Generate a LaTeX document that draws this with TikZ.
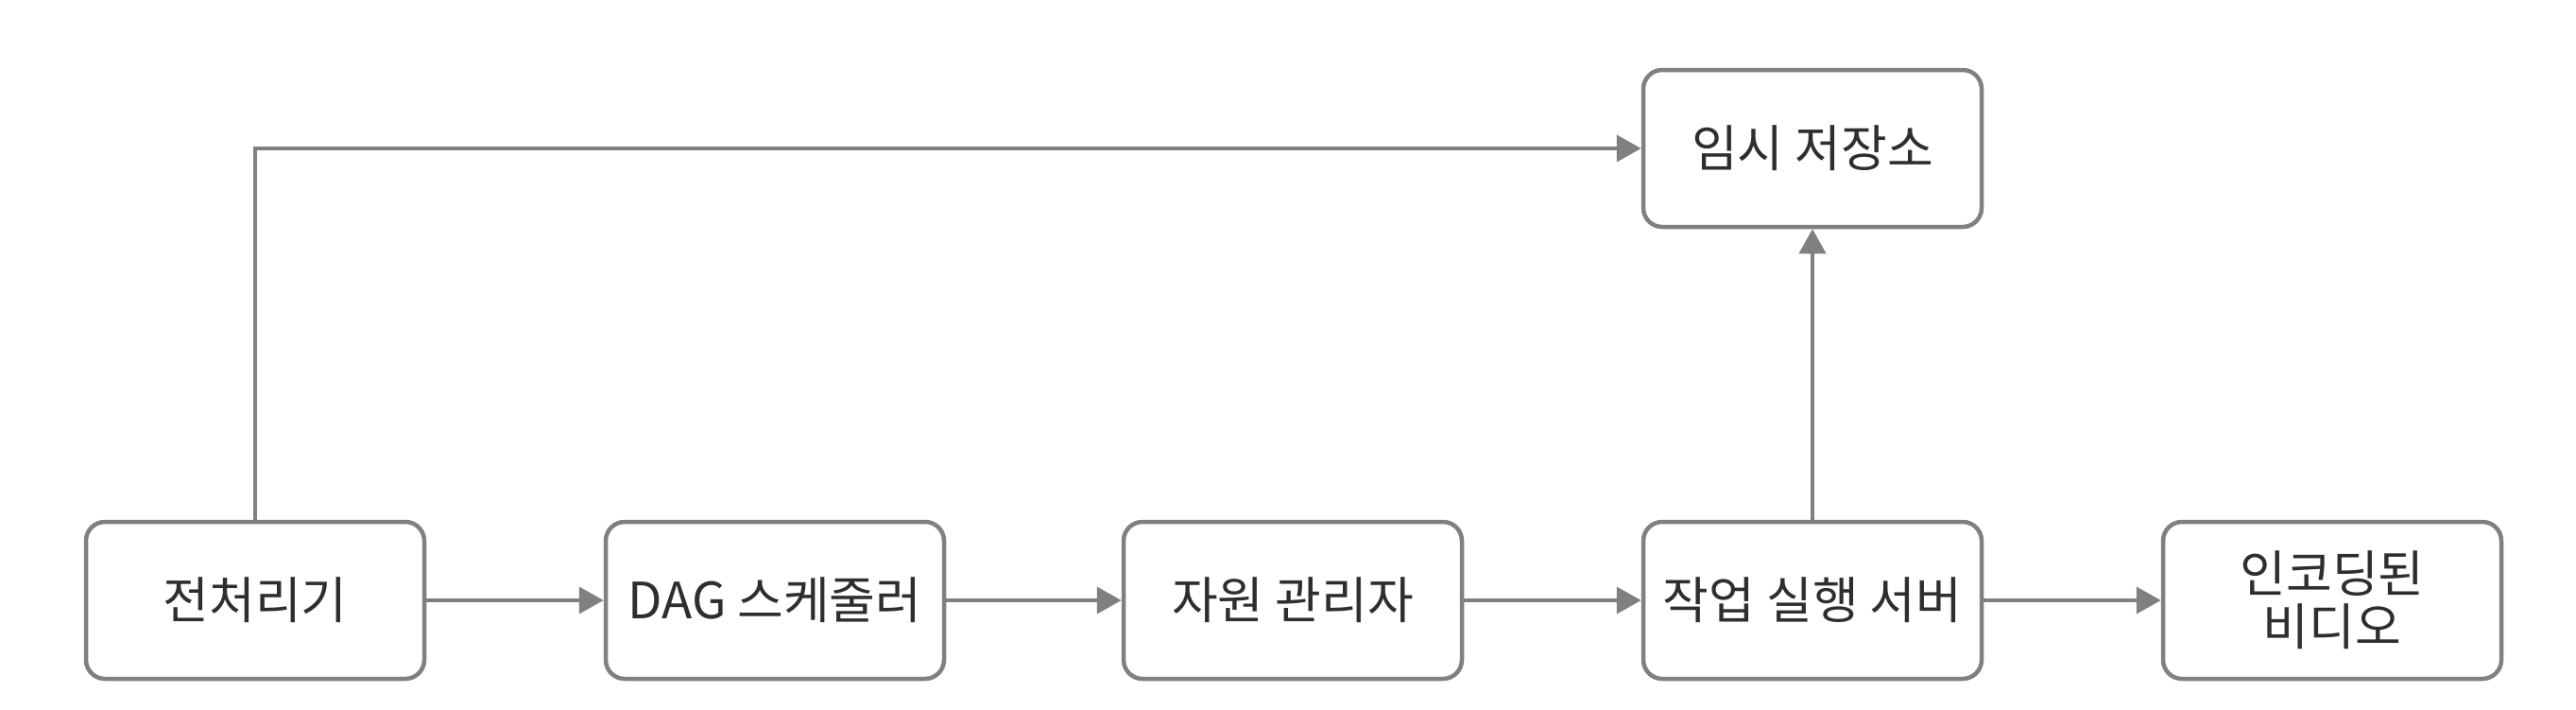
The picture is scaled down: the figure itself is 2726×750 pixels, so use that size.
\documentclass[tikz,border=0pt]{standalone}
\usepackage{fontspec}
\setmainfont{Noto Sans CJK KR}
\usetikzlibrary{arrows.meta}
\definecolor{linegray}{HTML}{808080}
\definecolor{txtgray}{HTML}{2e2e2e}
\begin{document}
\begin{tikzpicture}[x=1pt,y=-1pt,
  box/.style={draw=linegray, line width=4.5pt, rounded corners=20pt, fill=white,
    minimum width=358pt, minimum height=166pt, align=center, inner sep=0pt,
    font=\fontsize{53pt}{56pt}\selectfont, text=txtgray},
  conn/.style={draw=linegray, line width=4pt, -{Triangle[length=26pt,width=28pt]}}]
\useasboundingbox (0,0) rectangle (2726,750);
\node[box] (pre) at (270,635) {전처리기};
\node[box] (dag) at (820,635) {DAG 스케줄러};
\node[box] (res) at (1368,635) {자원 관리자};
\node[box] (exe) at (1918,635) {작업 실행 서버};
\node[box] (enc) at (2468,635) {인코딩된\\비디오};
\node[box] (tmp) at (1918,157) {임시 저장소};
\draw[conn] (pre) -- (dag);
\draw[conn] (dag) -- (res);
\draw[conn] (res) -- (exe);
\draw[conn] (exe) -- (enc);
\draw[conn] (exe) -- (tmp);
\draw[conn] (pre.north) |- (tmp.west);
\end{tikzpicture}
\end{document}
